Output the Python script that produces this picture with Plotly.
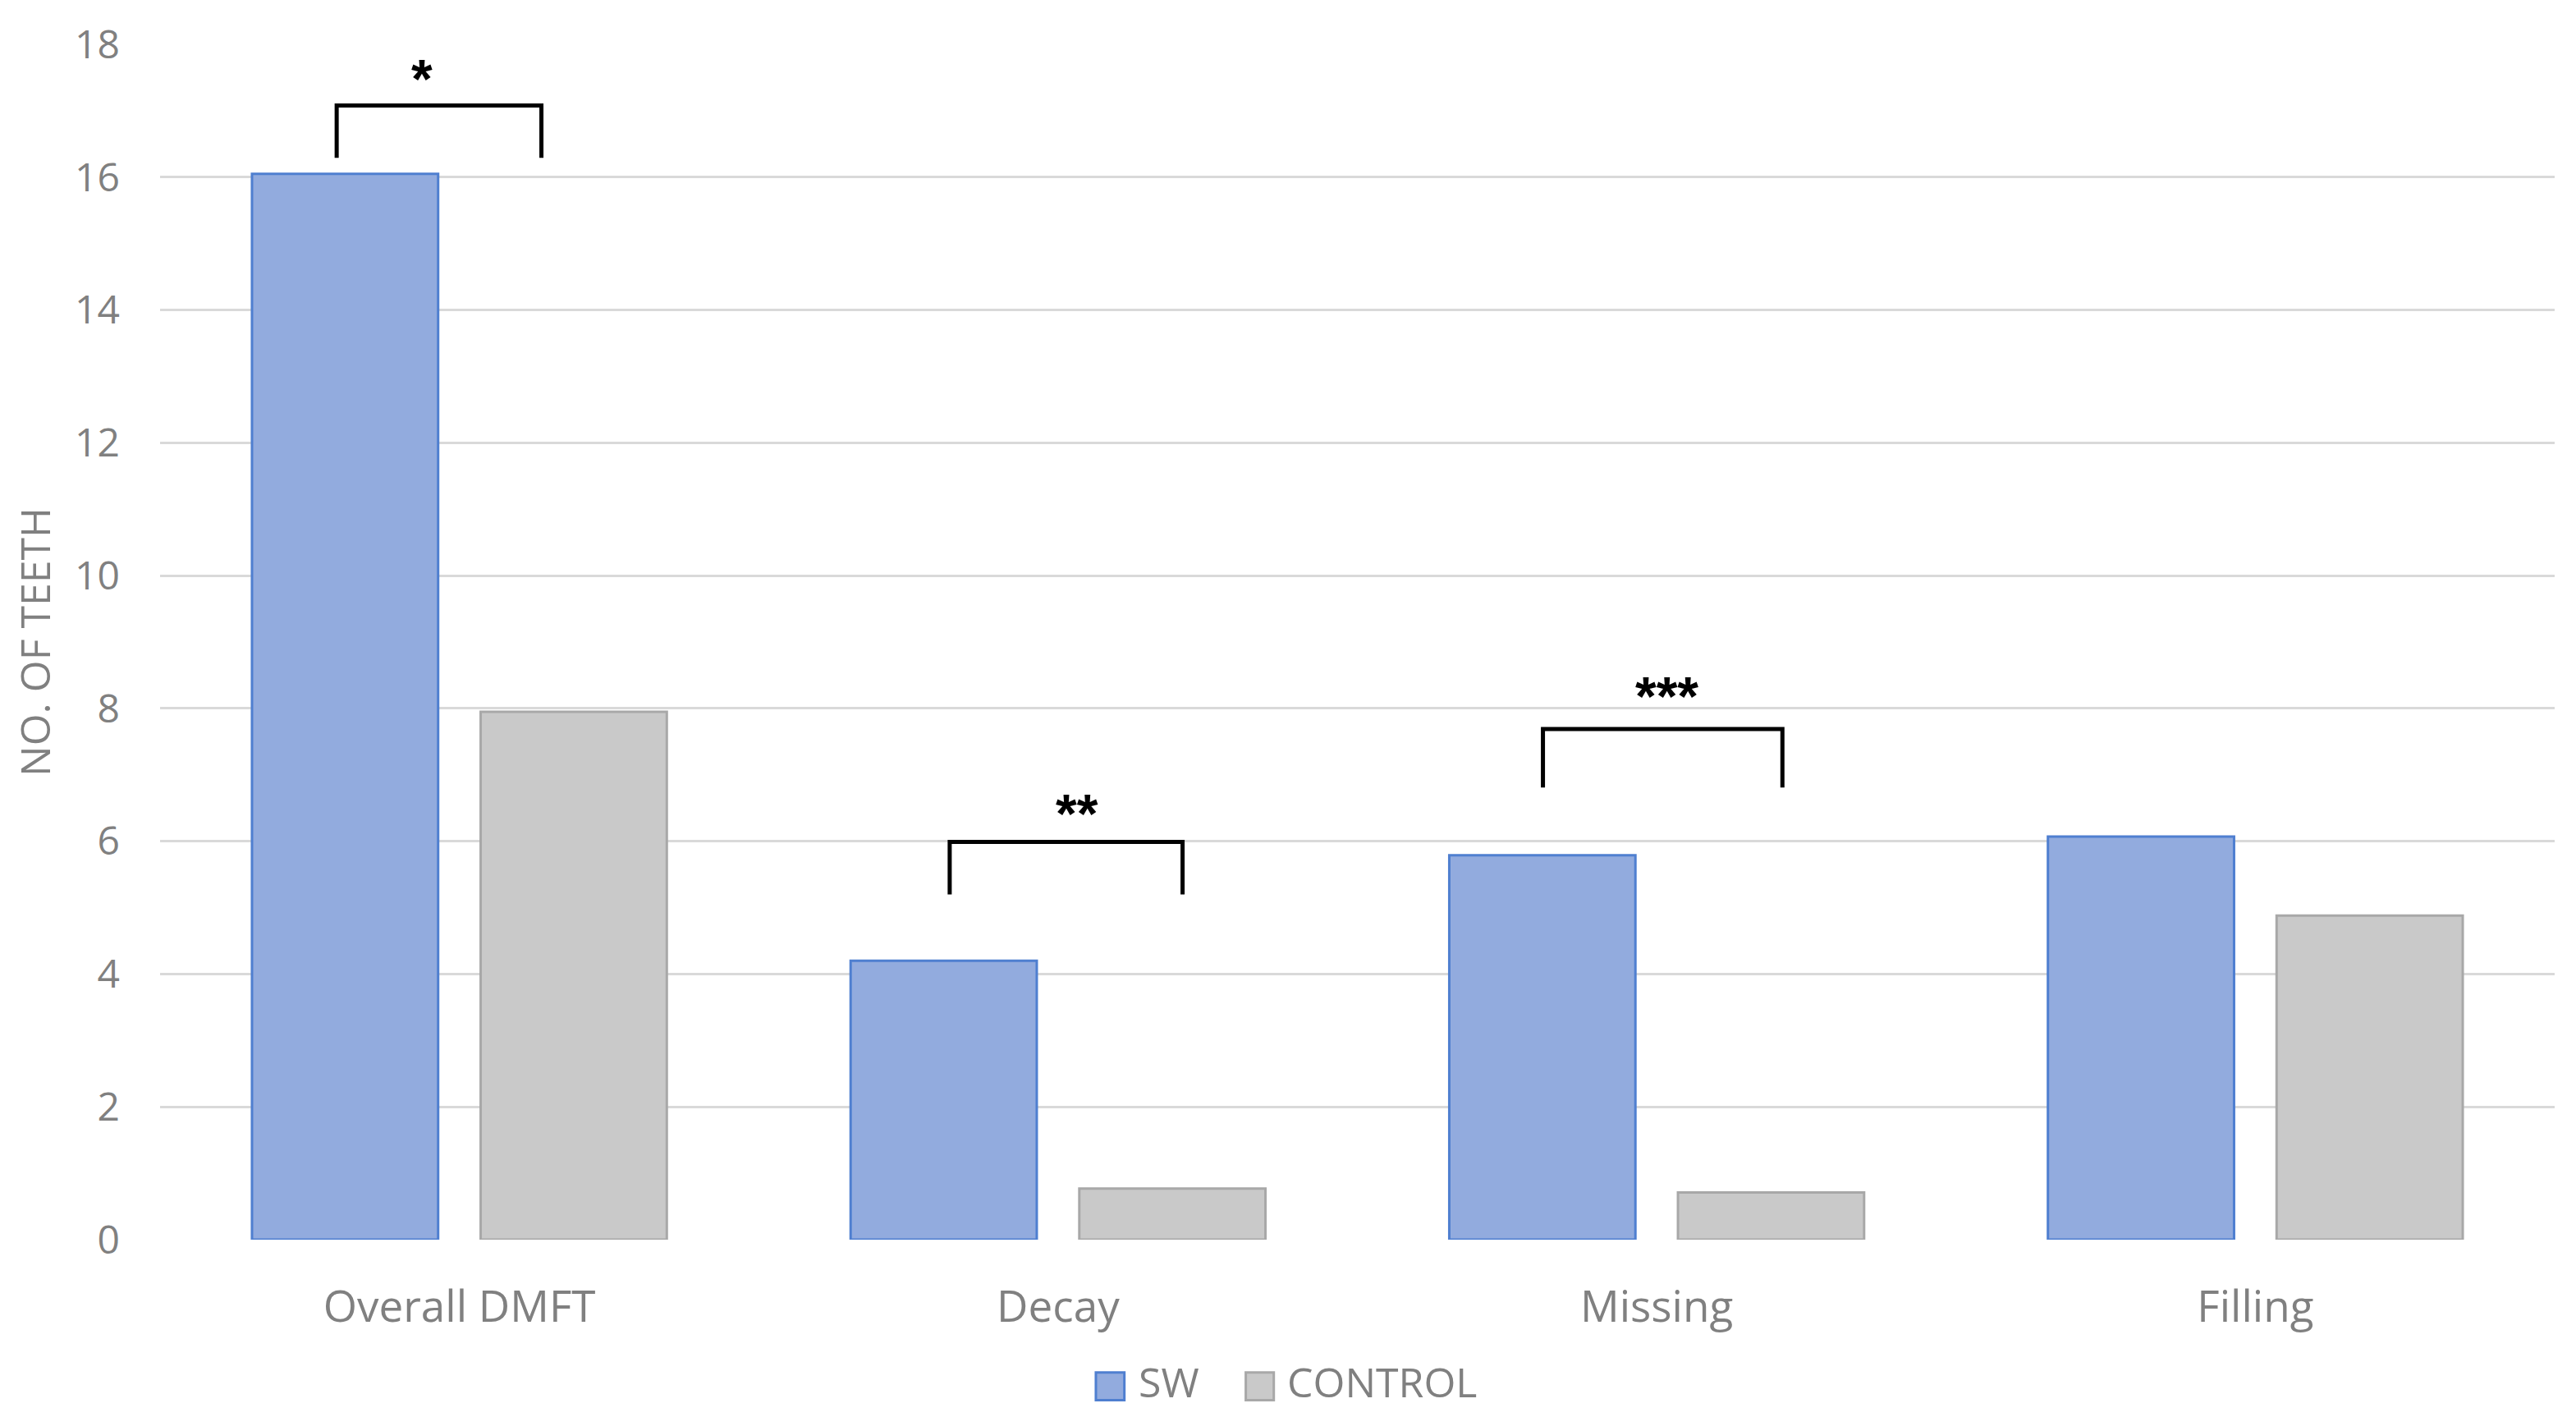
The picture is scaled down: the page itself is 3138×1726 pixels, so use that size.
import plotly.graph_objects as go

categories = ["Overall DMFT", "Decay", "Missing", "Filling"]
sw_values = [16.05, 4.2, 5.79, 6.07]
control_values = [7.95, 0.77, 0.71, 4.88]
y_ticks = [0, 2, 4, 6, 8, 10, 12, 14, 16, 18]
series_names = ["SW", "CONTROL"]

# significance brackets
sig_cat = [0, 1, 2]
sig_left = [-0.205, -0.181, -0.19]
sig_right = [0.137, 0.208, 0.21]
sig_bottom = [16.29, 5.2, 6.81]
sig_top = [17.08, 5.99, 7.69]
sig_label = ["*", "**", "***"]
sig_star_y = [17.48, 6.42, 8.18]
sig_star_dx = [-0.029, 0.018, 0.007]

FONT = "Open Sans"
TXT = "#808080"
SW_FILL = "#92ABDE"
SW_LINE = "#4F7FD0"
CT_FILL = "#C9C9C9"
CT_LINE = "#A8A8A8"

xpos = list(range(len(categories)))

fig = go.Figure()
fig.add_trace(go.Bar(x=xpos, y=sw_values, name=series_names[0],
                     marker=dict(color=SW_FILL, line=dict(color=SW_LINE, width=3)),
                     showlegend=False))
fig.add_trace(go.Bar(x=xpos, y=control_values, name=series_names[1],
                     marker=dict(color=CT_FILL, line=dict(color=CT_LINE, width=3)),
                     showlegend=False))

shapes = []
annotations = []
for c, l, r, b, t, lab, sy, sdx in zip(sig_cat, sig_left, sig_right, sig_bottom, sig_top,
                                       sig_label, sig_star_y, sig_star_dx):
    x0 = c + l
    x1 = c + r
    shapes.append(dict(type="path", xref="x", yref="y",
                       path=f"M {x0},{b} L {x0},{t} L {x1},{t} L {x1},{b}",
                       line=dict(color="black", width=5)))
    annotations.append(dict(x=(x0 + x1) / 2 + sdx, y=sy, xref="x", yref="y", text=f"<b>{lab}</b>",
                            showarrow=False, yshift=0,
                            font=dict(family="Liberation Sans", size=66, color="black")))

# manual legend (large square swatches)
leg_items = [
    (series_names[0], SW_FILL, SW_LINE, 0.3908, 0.4027, 0.4082),
    (series_names[1], CT_FILL, CT_LINE, 0.4534, 0.4651, 0.4702),
]
for name, fill, line, sx0, sx1, tx in leg_items:
    shapes.append(dict(type="rect", xref="paper", yref="paper", x0=sx0, x1=sx1,
                       y0=-0.1343, y1=-0.1111, fillcolor=fill, line=dict(color=line, width=3)))
    annotations.append(dict(x=tx, y=-0.1186, xref="paper", yref="paper", text=name,
                            showarrow=False, xanchor="left", yanchor="middle",
                            borderpad=0,
                            font=dict(family=FONT, size=50, color=TXT)))

fig.update_layout(
    width=3122, height=1710,
    margin=dict(l=184, r=18, t=35, b=208),
    paper_bgcolor="white", plot_bgcolor="white",
    barmode="group", bargap=0.236, bargroupgap=0.186,
    showlegend=False,
    font=dict(family=FONT, color=TXT),
    shapes=shapes, annotations=annotations,
    xaxis=dict(range=[-0.5, 3.5], tickvals=xpos, ticktext=categories,
               tickfont=dict(family=FONT, size=53, color=TXT),
               showgrid=False, zeroline=False, showline=False, ticks="",
               ticklabelstandoff=46),
    yaxis=dict(range=[0, 18], tickvals=y_ticks,
               tickfont=dict(family=FONT, size=48, color=TXT),
               showgrid=True, gridcolor="#D9D9D9", gridwidth=3,
               zeroline=False, showline=False, ticks="", ticklabelstandoff=48,
               title=dict(text="NO. OF TEETH", font=dict(family=FONT, size=50, color=TXT),
                          standoff=36)),
)

fig.write_html("out.html")
